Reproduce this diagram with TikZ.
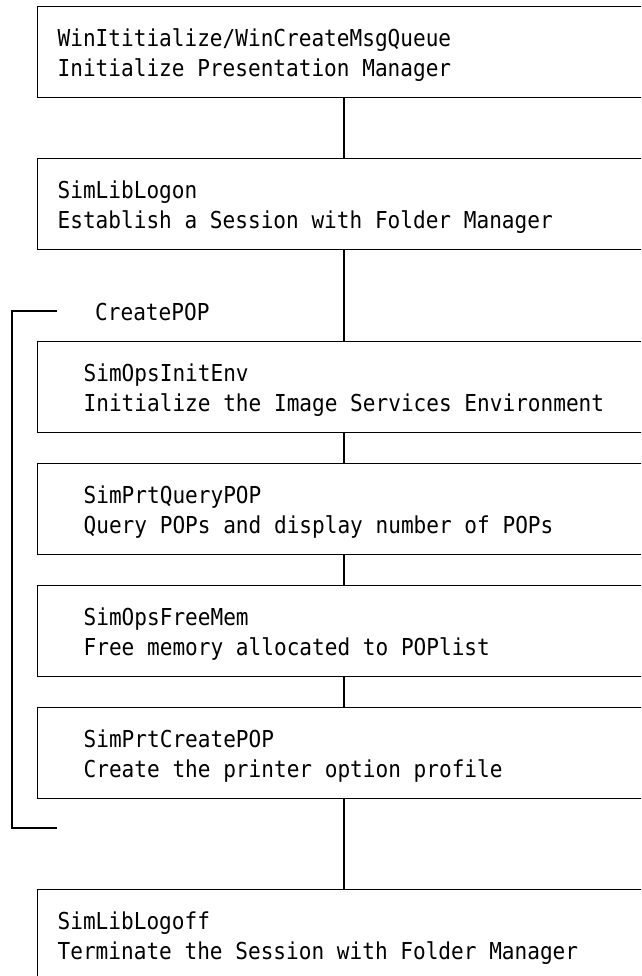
\documentclass[tikz,border=0pt]{standalone}
\usepackage{fontspec}
\newfontfamily\flowmono[FakeStretch=0.905]{DejaVu Sans Mono}
\begin{document}
\begin{tikzpicture}[x=1pt, y=-1pt,
  every node/.style={font=\flowmono\fontsize{23.3}{30}\selectfont},
  stepbox/.style={draw, line width=1.3pt, anchor=north west, align=left,
    text width=600pt, text height=40pt, text depth=51pt,
    inner ysep=0pt, inner xsep=20pt,
    execute at begin node={\spaceskip=0pt\xspaceskip=0pt}},
  subbox/.style={stepbox, inner xsep=46pt},
  wire/.style={line width=1.3pt}
]
\useasboundingbox (0,0) rectangle (641,976);
\clip (0,0) rectangle (641,976);

% main flow
\node[stepbox] (init)  at (37,6)   {WinItitialize/WinCreateMsgQueue\\Initialize Presentation Manager};
\node[stepbox] (logon) at (37,158) {SimLibLogon\\Establish a Session with Folder Manager};

% CreatePOP group
\node[subbox] (env)    at (37,341) {SimOpsInitEnv\\Initialize the Image Services Environment};
\node[subbox] (query)  at (37,463) {SimPrtQueryPOP\\Query POPs and display number of POPs};
\node[subbox] (free)   at (37,585) {SimOpsFreeMem\\Free memory allocated to POPlist};
\node[subbox] (create) at (37,707) {SimPrtCreatePOP\\Create the printer option profile};

\node[stepbox] (logoff) at (37,889) {SimLibLogoff\\Terminate the Session with Folder Manager};

% vertical spine joining the steps
\coordinate (spine) at (344,0);
\draw[wire] (init.south -| spine)   -- (logon.north -| spine);
\draw[wire] (logon.south -| spine)  -- (env.north -| spine);
\draw[wire] (env.south -| spine)    -- (query.north -| spine);
\draw[wire] (query.south -| spine)  -- (free.north -| spine);
\draw[wire] (free.south -| spine)   -- (create.north -| spine);
\draw[wire] (create.south -| spine) -- (logoff.north -| spine);

% bracket marking the CreatePOP group
\coordinate (grpTopEnd) at (57,311);
\coordinate (grpTop)    at (12,311);
\coordinate (grpBot)    at (12,828);
\coordinate (grpBotEnd) at (57,828);
\draw[wire] (grpTopEnd) -- (grpTop) -- (grpBot) -- (grpBotEnd);
\node[anchor=base west, inner sep=0pt] (grplabel) at (95,320) {CreatePOP};
\end{tikzpicture}
\end{document}
